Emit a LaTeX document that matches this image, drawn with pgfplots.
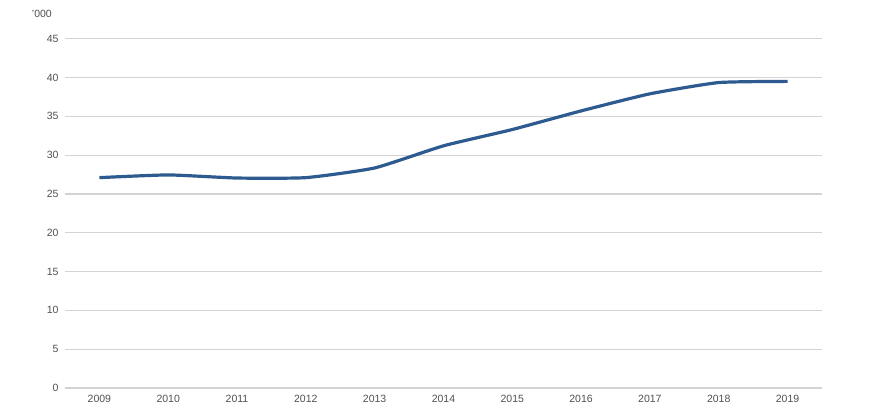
\documentclass[border=0pt]{standalone}
\usepackage{pgfplots}
\pgfplotsset{compat=1.18}
\usepackage{fontspec}
\setmainfont{Liberation Sans}
\definecolor{linecol}{HTML}{2E5B8F}
\definecolor{gridcol}{HTML}{D3D3D3}
\definecolor{textcol}{HTML}{505050}
\begin{document}
\begin{tikzpicture}
\useasboundingbox (-65bp,-28bp) rectangle (804bp,388bp);
\begin{axis}[
  at={(0,0)}, anchor=south west,
  scale only axis,
  width=757bp, height=349.3bp,
  xmin=2008.5, xmax=2019.5,
  ymin=0, ymax=45,
  xtick={2009,...,2019},
  ytick={0,5,...,45},
  /pgf/number format/1000 sep={},
  /pgf/number format/assume math mode=true,
  axis line style={draw=none},
  major tick length=0pt,
  ymajorgrids,
  grid style={gridcol, line width=1.2bp},
  tick label style={font=\fontsize{10.5bp}{12bp}\selectfont, text=textcol},
  xticklabel style={yshift=-4bp},
  yticklabel style={xshift=-3bp},
  clip=false,
]
\addplot[linecol, line width=3.2bp, smooth, tension=0.3] coordinates {
(2009,27.1) (2010,27.45) (2011,27.05) (2012,27.1) (2013,28.35)
(2014,31.2) (2015,33.3) (2016,35.7) (2017,37.9) (2018,39.35) (2019,39.5)
};
\node[anchor=east, font=\fontsize{10.5bp}{12bp}\selectfont, text=textcol, inner sep=0pt]
  at ([xshift=-13bp,yshift=24.5bp]rel axis cs:0,1) {'000};
\end{axis}
\end{tikzpicture}
\end{document}
